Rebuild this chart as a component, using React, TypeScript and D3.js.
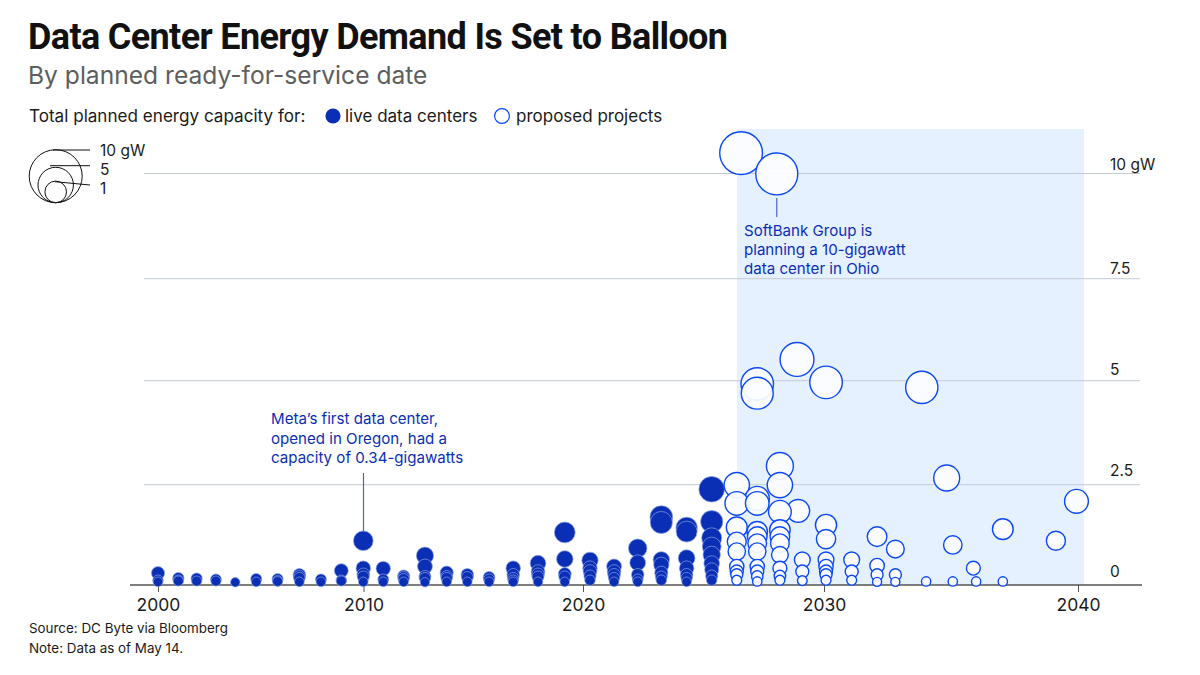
import { useRef, useEffect } from "react";
import * as d3 from "d3";

const WIDTH = 1200;
const HEIGHT = 675;
const TITLE_FONT = "Roboto, 'Open Sans', sans-serif";
const SANS = "Inter, 'Open Sans', sans-serif";

const COLORS = {
  live: "#0a2fb4",
  liveStroke: "#8aa1e8",
  proposed: "#0c48f5",
  proposedFill: "#fbfdff",
  band: "#e6f1ff",
  grid: "#c4cad3",
  axis: "#555555",
  note: "#0a2fb4",
  leader: "#4a63c4",
  title: "#111111",
  subtitle: "#5e5e5e",
  text: "#1a1a1a",
};

const xTicks = [2000, 2010, 2020, 2030, 2040];
const gridValues = [10, 7.5, 5, 2.5];
const axisLabels = ["10 gW", "7.5", "5", "2.5", "0"];
const legendSizes = ["10 gW", "5", "1"];

const liveYears = [
  2000, 2000.99, 2001.88, 2002.82, 2003.76, 2004.78, 2005.82, 2006.88, 2007.93, 2008.92,
  2009.99, 2010.9, 2011.83, 2012.8, 2013.79, 2014.73, 2015.72, 2016.82, 2017.95, 2019.17,
  2020.29, 2021.29, 2022.27, 2023.25, 2024.3, 2025.34,
];
const liveCapacity = [
  [0.37, 0.2, 0.16],
  [0.25, 0.2, 0.18],
  [0.24, 0.18],
  [0.22, 0.18],
  [0.15],
  [0.23, 0.16],
  [0.23, 0.19, 0.17],
  [0.33, 0.29, 0.25, 0.16],
  [0.22, 0.16],
  [0.43, 0.2, 0.18],
  [1.15, 0.49, 0.34, 0.28, 0.16],
  [0.48, 0.22, 0.16],
  [0.3, 0.27, 0.23, 0.16],
  [0.79, 0.53, 0.29, 0.25, 0.15],
  [0.38, 0.29, 0.25, 0.16],
  [0.33, 0.27, 0.16],
  [0.27, 0.22, 0.16],
  [0.49, 0.33, 0.25, 0.2, 0.16],
  [0.61, 0.41, 0.34, 0.28, 0.16],
  [1.35, 0.71, 0.35, 0.28, 0.16],
  [0.68, 0.49, 0.41, 0.3, 0.2],
  [0.53, 0.41, 0.33, 0.25, 0.16],
  [0.97, 0.62, 0.33, 0.22, 0.16],
  [1.72, 1.59, 0.69, 0.57, 0.38, 0.28, 0.2],
  [1.37, 1.46, 0.73, 0.49, 0.33, 0.25, 0.16],
  [2.39, 1.61, 1.22, 1.01, 0.81, 0.6, 0.45, 0.3, 0.2],
];

const proposedYears = [
  2026.38, 2026.56, 2027.23, 2028.04, 2028.17, 2028.88, 2028.93, 2029.1, 2030.08, 2031.09,
  2032.09, 2032.81, 2033.85, 2034.02, 2034.83, 2035.07, 2035.88, 2035.99, 2037.04, 2039.13,
  2039.94,
];
const proposedCapacity = [
  [2.49, 2.05, 1.47, 1.13, 0.89, 0.53, 0.41, 0.33, 0.2],
  [10.49],
  [4.92, 4.7, 2.17, 2.05, 1.37, 1.25, 1.09, 0.89, 0.53, 0.41, 0.29, 0.17],
  [9.99],
  [2.95, 2.49, 1.85, 1.41, 1.25, 1.09, 0.81, 0.49, 0.3, 0.2],
  [5.52],
  [1.87],
  [0.69, 0.41, 0.19],
  [4.96, 1.53, 1.19, 0.69, 0.53, 0.41, 0.33, 0.2],
  [0.69, 0.41, 0.2],
  [1.25, 0.55, 0.33, 0.16],
  [0.95, 0.33, 0.16],
  [4.84],
  [0.17],
  [2.66],
  [1.05, 0.17],
  [0.49],
  [0.17],
  [1.43, 0.17],
  [1.15],
  [2.1],
];

const metaNote = ["Meta\u2019s first data center,", "opened in Oregon, had a", "capacity of 0.34-gigawatts"];
const softBankNote = ["SoftBank Group is", "planning a 10-gigawatt", "data center in Ohio"];

// ticks and gridlines are not evenly spaced in the source, so both scales are piecewise
const x = d3.scaleLinear().domain(xTicks).range([158, 363.5, 583, 824, 1078]);
const y = d3.scaleLinear().domain([0, 2.5, 5, 7.5, 10, 11.07]).range([588.5, 484.7, 380.7, 278.7, 173.5, 129]);
const r = d3.scalePow().exponent(0.355).domain([0, 10]).range([0, 21.4]);

const AXIS_Y = 585;

export default function App() {
  const svgRef = useRef<SVGSVGElement>(null);

  useEffect(() => {
    if (!svgRef.current) return;
    const svg = d3.select(svgRef.current);
    svg.selectAll("*").remove();
    svg.attr("font-family", SANS);

    // Band for planned dates
    svg
      .append("rect")
      .attr("x", x(2026.39))
      .attr("y", y(11.07))
      .attr("width", x(2040.24) - x(2026.39))
      .attr("height", AXIS_Y - y(11.07))
      .attr("fill", COLORS.band);

    // Grid
    svg
      .append("g")
      .selectAll("line")
      .data(gridValues)
      .enter()
      .append("line")
      .attr("x1", 144)
      .attr("x2", 1140)
      .attr("y1", (d) => y(d))
      .attr("y2", (d) => y(d))
      .attr("stroke", COLORS.grid)
      .attr("stroke-width", 1);

    const labelBaselines = [170, 274, 375, 476, 577];
    svg
      .append("g")
      .selectAll("text")
      .data(axisLabels)
      .enter()
      .append("text")
      .attr("x", 1110)
      .attr("y", (_, i) => labelBaselines[i])
      .attr("font-size", 15.5)
      .attr("fill", COLORS.text)
      .text((d) => d);

    // Axis
    svg
      .append("line")
      .attr("x1", 130)
      .attr("x2", 1142)
      .attr("y1", AXIS_Y)
      .attr("y2", AXIS_Y)
      .attr("stroke", COLORS.axis)
      .attr("stroke-width", 1.6);

    svg
      .append("g")
      .attr("transform", `translate(0,${AXIS_Y})`)
      .call(d3.axisBottom(x).tickValues(xTicks).tickFormat(d3.format("d")).tickSize(7))
      .call((s) => s.select(".domain").remove())
      .call((s) => s.selectAll(".tick line").attr("stroke", COLORS.axis))
      .call((s) =>
        s
          .selectAll(".tick text")
          .attr("fill", COLORS.text)
          .attr("font-family", SANS)
          .attr("font-size", "17.5px")
          .attr("y", 10)
          .attr("dy", "0.9em")
      );

    // Bubbles, biggest first so the small ones stay visible
    const toPoints = (years: number[], values: number[][]) =>
      years
        .flatMap((year, i) => values[i].map((value) => ({ year, value })))
        .sort((a, b) => d3.descending(a.value, b.value));

    svg
      .append("g")
      .selectAll("circle")
      .data(toPoints(liveYears, liveCapacity))
      .enter()
      .append("circle")
      .attr("cx", (d) => x(d.year))
      .attr("cy", (d) => y(d.value))
      .attr("r", (d) => r(d.value) - 0.1)
      .attr("fill", COLORS.live)
      .attr("stroke", COLORS.liveStroke)
      .attr("stroke-width", 0.7);

    svg
      .append("g")
      .selectAll("circle")
      .data(toPoints(proposedYears, proposedCapacity))
      .enter()
      .append("circle")
      .attr("cx", (d) => x(d.year))
      .attr("cy", (d) => y(d.value))
      .attr("r", (d) => r(d.value) - 0.4)
      .attr("fill", COLORS.proposedFill)
      .attr("fill-opacity", 0.93)
      .attr("stroke", COLORS.proposed)
      .attr("stroke-width", 1.4);

    // Annotations
    const note = (lines: string[], left: number, top: number, step: number) => {
      svg
        .append("g")
        .selectAll("text")
        .data(lines)
        .enter()
        .append("text")
        .attr("x", left)
        .attr("y", (_, i) => top + i * step)
        .attr("font-size", 15.1)
        .attr("fill", COLORS.note)
        .text((d) => d);
    };
    note(metaNote, 271, 424, 19.5);
    note(softBankNote, 744, 236, 19);

    svg
      .append("line")
      .attr("x1", x(2010))
      .attr("x2", x(2010))
      .attr("y1", 473)
      .attr("y2", 532)
      .attr("stroke", COLORS.leader)
      .attr("stroke-width", 1.2);
    svg
      .append("line")
      .attr("x1", x(2028.04))
      .attr("x2", x(2028.04))
      .attr("y1", 198)
      .attr("y2", 217)
      .attr("stroke", COLORS.leader)
      .attr("stroke-width", 1.2);

    // Title block
    svg
      .append("text")
      .attr("x", 28)
      .attr("y", 49)
      .attr("font-family", TITLE_FONT)
      .attr("font-size", 36)
      .attr("font-weight", 700)
      .attr("letter-spacing", -0.64)
      .attr("fill", COLORS.title)
      .text("Data Center Energy Demand Is Set to Balloon");
    svg
      .append("text")
      .attr("x", 28)
      .attr("y", 84)
      .attr("font-size", 24.6)
      .attr("fill", COLORS.subtitle)
      .text("By planned ready-for-service date");

    // Colour legend
    const keyY = 116;
    svg
      .append("text")
      .attr("x", 29)
      .attr("y", keyY + 6)
      .attr("font-size", 17.1)
      .attr("fill", COLORS.text)
      .text("Total planned energy capacity for:");
    svg
      .append("circle")
      .attr("cx", 333)
      .attr("cy", keyY)
      .attr("r", 7.6)
      .attr("fill", COLORS.live);
    svg
      .append("text")
      .attr("x", 345)
      .attr("y", keyY + 6)
      .attr("font-size", 17)
      .attr("fill", COLORS.text)
      .text("live data centers");
    svg
      .append("circle")
      .attr("cx", 502)
      .attr("cy", keyY)
      .attr("r", 7.4)
      .attr("fill", "#fff")
      .attr("stroke", COLORS.proposed)
      .attr("stroke-width", 1.2);
    svg
      .append("text")
      .attr("x", 516)
      .attr("y", keyY + 6)
      .attr("font-size", 17)
      .attr("fill", COLORS.text)
      .text("proposed projects");

    // Size legend
    const sizeKey = [
      { radius: 26.5, x1: 53, y1: 150, y2: 150, ty: 155.5 },
      { radius: 17.7, x1: 50, y1: 165.7, y2: 165.7, ty: 175 },
      { radius: 10.8, x1: 55, y1: 181.7, y2: 185, ty: 194 },
    ];
    const key = svg.append("g");
    sizeKey.forEach((k, i) => {
      key
        .append("circle")
        .attr("cx", 55.7)
        .attr("cy", 202.7 - k.radius)
        .attr("r", k.radius)
        .attr("fill", "none")
        .attr("stroke", "#111")
        .attr("stroke-width", 1);
      key
        .append("line")
        .attr("x1", k.x1)
        .attr("x2", 90)
        .attr("y1", k.y1)
        .attr("y2", k.y2)
        .attr("stroke", "#111")
        .attr("stroke-width", 1);
      key
        .append("text")
        .attr("x", 100)
        .attr("y", k.ty)
        .attr("font-size", 15.5)
        .attr("fill", COLORS.text)
        .text(legendSizes[i]);
    });

    // Footer
    svg
      .append("text")
      .attr("x", 29)
      .attr("y", 633)
      .attr("font-size", 13.4)
      .attr("fill", COLORS.text)
      .text("Source: DC Byte via Bloomberg");
    svg
      .append("text")
      .attr("x", 29)
      .attr("y", 653)
      .attr("font-size", 13.4)
      .attr("fill", COLORS.text)
      .text("Note: Data as of May 14.");
  }, []);

  return (
    <svg
      ref={svgRef}
      width={WIDTH}
      height={HEIGHT}
      viewBox={`0 0 ${WIDTH} ${HEIGHT}`}
      style={{ position: "fixed", left: 0, top: 0, background: "#fff" }}
    />
  );
}
